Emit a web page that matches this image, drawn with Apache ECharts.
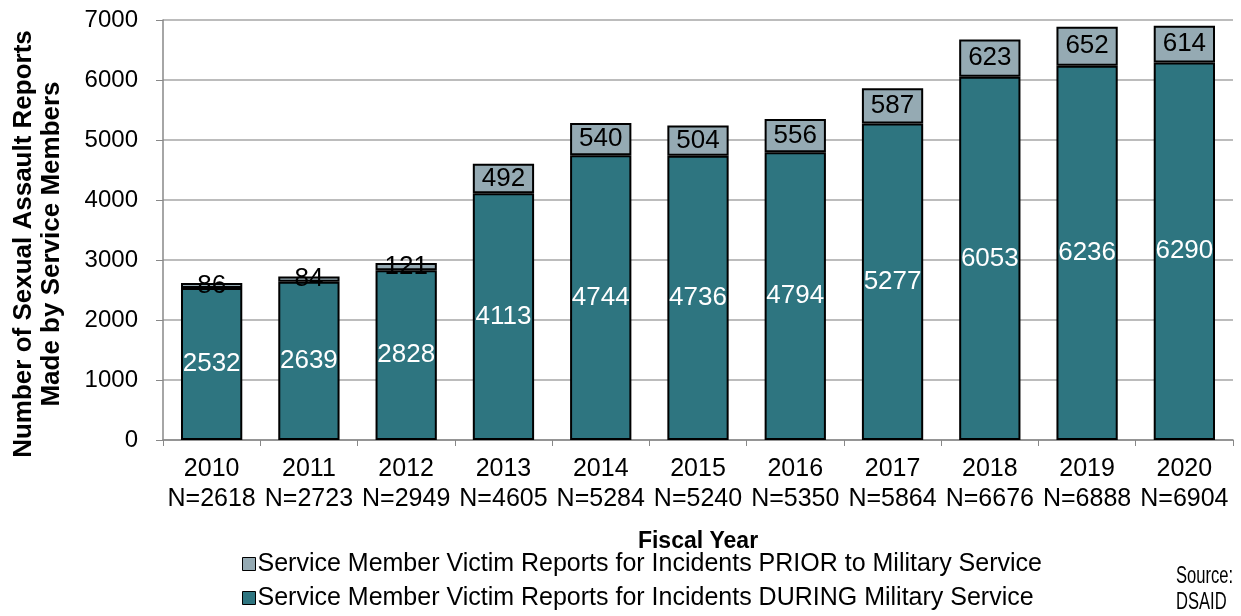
<!DOCTYPE html>
<html>
<head>
<meta charset="utf-8">
<script src="https://cdn.jsdelivr.net/npm/echarts@6/dist/echarts.min.js"></script>
<style>
  html, body { margin: 0; padding: 0; background: #fff; }
  #chart { width: 1241px; height: 616px; }
</style>
</head>
<body>
<div id="chart"></div>
<script>
var years = ['2010', '2011', '2012', '2013', '2014', '2015', '2016', '2017', '2018', '2019', '2020'];
var totals = [2618, 2723, 2949, 4605, 5284, 5240, 5350, 5864, 6676, 6888, 6904];
var during = [2532, 2639, 2828, 4113, 4744, 4736, 4794, 5277, 6053, 6236, 6290];
var prior = [86, 84, 121, 492, 540, 504, 556, 587, 623, 652, 614];
var yTicks = [0, 1000, 2000, 3000, 4000, 5000, 6000, 7000];

var font = 'Liberation Sans, Arial, sans-serif';
var categories = years.map(function (y, i) { return y + '\nN=' + totals[i]; });

var myChart = echarts.init(document.getElementById('chart'));

var option = {
    animation: false,
    textStyle: { fontFamily: font },
    grid: { left: 163, right: 8, top: 20, bottom: 176, outerBoundsMode: 'none', containLabel: false },
    legend: {
        orient: 'vertical',
        left: 242,
        top: 551,
        padding: 0,
        itemGap: 8,
        itemWidth: 13,
        itemHeight: 13,
        icon: 'rect',
        textStyle: { fontSize: 25, color: '#000', fontFamily: font, lineHeight: 26, padding: [0, 0, 0, -3] },
        data: [
            { name: 'Service Member Victim Reports for Incidents PRIOR to Military Service', itemStyle: { borderColor: '#000', borderWidth: 1 } },
            { name: 'Service Member Victim Reports for Incidents DURING Military Service', itemStyle: { borderColor: '#000', borderWidth: 1 } }
        ]
    },
    graphic: [
        {
            type: 'text', left: 1176, top: 564, scaleX: 0.72,
            style: { text: 'Source:\nDSAID', font: '23px ' + font, fill: '#000', lineHeight: 26 }
        },
        {
            type: 'text', x: 38, y: 244, rotation: Math.PI / 2,
            style: {
                text: 'Number of Sexual Assault Reports\nMade by Service Members',
                font: 'bold 26px ' + font, fill: '#000', lineHeight: 28,
                align: 'center', verticalAlign: 'middle'
            }
        }
    ],
    xAxis: {
        type: 'category',
        data: categories,
        name: 'Fiscal Year',
        nameLocation: 'middle',
        nameGap: 90,
        nameTextStyle: { fontSize: 23, fontWeight: 'bold', color: '#000' },
        axisLine: { lineStyle: { color: '#888', width: 1.5 } },
        axisTick: { show: true, length: 6, lineStyle: { color: '#888' } },
        axisLabel: { fontSize: 25, color: '#000', lineHeight: 30, margin: 14, interval: 0 }
    },
    yAxis: {
        type: 'value',
        min: yTicks[0],
        max: yTicks[yTicks.length - 1],
        interval: 1000,
        axisLine: { show: true, lineStyle: { color: '#888', width: 1.5 } },
        axisTick: { show: true, length: 7, lineStyle: { color: '#888' } },
        splitLine: { lineStyle: { color: '#a6a6a6', width: 1.5 } },
        axisLabel: { fontSize: 24, color: '#000', margin: 25, formatter: function (v) { return String(v); } }
    },
    series: [
        {
            name: 'Service Member Victim Reports for Incidents DURING Military Service',
            type: 'bar',
            stack: 'total',
            barWidth: '63%',
            data: during,
            itemStyle: { color: '#2e7580', borderColor: '#000', borderWidth: 2 },
            label: { show: true, position: 'inside', color: '#fff', fontSize: 26 }
        },
        {
            name: 'Service Member Victim Reports for Incidents PRIOR to Military Service',
            type: 'bar',
            stack: 'total',
            data: prior,
            itemStyle: { color: '#95aab3', borderColor: '#000', borderWidth: 2 },
            label: { show: true, position: 'inside', color: '#000', fontSize: 26 }
        }
    ]
};

myChart.setOption(option);
</script>
</body>
</html>
